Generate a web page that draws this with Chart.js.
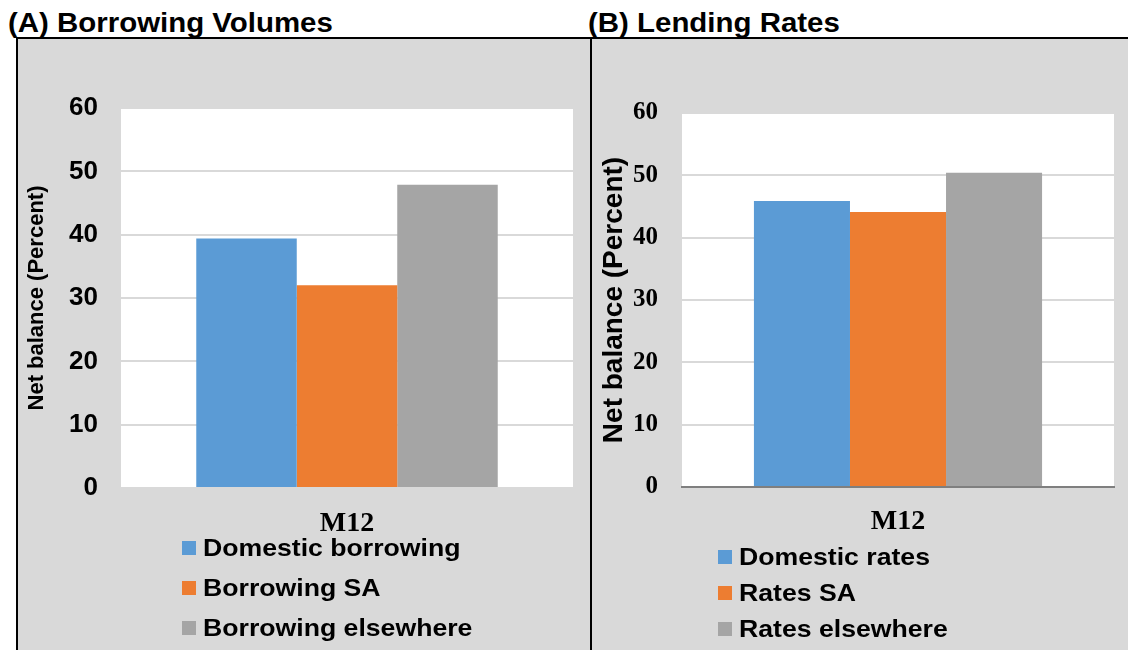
<!DOCTYPE html>
<html>
<head>
<meta charset="utf-8">
<title>Borrowing Volumes and Lending Rates</title>
<script src="https://cdn.jsdelivr.net/npm/chart.js@4.4.1/dist/chart.umd.min.js"></script>
<style>
  html, body { margin: 0; padding: 0; background: #fff; }
  #page { position: relative; width: 1128px; height: 650px; overflow: hidden; background: #fff;
          font-family: "Liberation Sans", Arial, sans-serif; }
  .title { position: absolute; top: 9px; margin: 0; font-size: 27px; line-height: 28px; font-weight: bold;
           color: #000; white-space: nowrap; transform: scaleX(1.09); transform-origin: 0 50%; }
  .panel { position: absolute; top: 37px; height: 613px; background: #d9d9d9; box-sizing: border-box;
           border-top: 2px solid #000; }
  #panelA { left: 16px; width: 576px; border-left: 2px solid #000; border-right: 2px solid #000; }
  #panelB { left: 592px; width: 536px; }
  canvas { position: absolute; display: block; }
  #chartA { left: 18px; top: 39px; }
  #chartB { left: 592px; top: 39px; }
  .legend-item { position: absolute; height: 30px; display: flex; align-items: center; white-space: nowrap;
                 font-size: 24px; line-height: 30px; font-weight: bold; color: #000; }
  .legend-box { width: 14px; height: 14px; margin-right: 7px; flex: none; }
  .legend-text { display: inline-block; transform: scaleX(1.11); transform-origin: 0 50%; }
</style>
</head>
<body>
<div id="page">
  <div class="panel" id="panelA"></div>
  <div class="panel" id="panelB"></div>
  <div class="title" style="left:8px;">(A) Borrowing Volumes</div>
  <div class="title" style="left:588px;">(B) Lending Rates</div>
  <canvas id="chartA" width="572" height="611"></canvas>
  <canvas id="chartB" width="536" height="611"></canvas>
  <div id="legendA"></div>
  <div id="legendB"></div>
</div>
<script>
// Survey period shown on the category axis
const categories = ['M12'];

// Panel A: borrowing volumes, net balance in percent
const borrowingLabels = ['Domestic borrowing', 'Borrowing SA', 'Borrowing elsewhere'];
const borrowingValues = [39.4, 32.0, 47.9];

// Panel B: lending rates, net balance in percent
const ratesLabels = ['Domestic rates', 'Rates SA', 'Rates elsewhere'];
const ratesValues = [45.9, 44.1, 50.4];

// Value axis ticks shared by both panels
const yTicks = [0, 10, 20, 30, 40, 50, 60];

const seriesColors = ['#5b9bd5', '#ed7d31', '#a5a5a5'];

// Fills the plotting area white on top of the grey panel
const plotBackground = {
  id: 'plotBackground',
  beforeDraw(chart, args, opts) {
    const { ctx, chartArea: a } = chart;
    ctx.save();
    ctx.fillStyle = opts.color || '#fff';
    ctx.fillRect(a.left, a.top, a.right - a.left, a.bottom - a.top);
    ctx.restore();
  }
};

function buildChart(canvas, labels, values, cfg) {
  return new Chart(canvas, {
    type: 'bar',
    data: {
      labels: categories,
      datasets: labels.map((label, i) => ({
        label: label,
        data: [values[i]],
        backgroundColor: seriesColors[i],
        borderWidth: 0,
        categoryPercentage: 0.667,
        barPercentage: 1.0
      }))
    },
    options: {
      responsive: false,
      animation: false,
      devicePixelRatio: 1,
      layout: { padding: { left: 0, right: cfg.padRight, top: cfg.padTop, bottom: 0 } },
      plugins: {
        legend: { display: false },
        tooltip: { enabled: false },
        plotBackground: { color: '#ffffff' }
      },
      scales: {
        x: {
          grid: { display: false, drawTicks: false },
          border: { display: cfg.xBorder, color: '#7f7f7f', width: 2 },
          ticks: {
            padding: cfg.xPad,
            color: '#000',
            font: { family: '"Liberation Serif", "Times New Roman", serif', weight: 'bold', size: 28 }
          },
          afterFit(scale) { scale.height = cfg.xHeight; }
        },
        y: {
          min: 0,
          max: 60,
          afterBuildTicks(scale) { scale.ticks = yTicks.map(v => ({ value: v })); },
          grid: { color: '#d9d9d9', lineWidth: 2, drawTicks: false },
          border: { display: false },
          ticks: { padding: cfg.yPad, color: '#000', font: cfg.tickFont },
          title: {
            display: true,
            text: 'Net balance (Percent)',
            color: '#000',
            font: cfg.titleFont,
            padding: { top: cfg.titlePad, bottom: 0 }
          },
          afterFit(scale) { scale.width = cfg.yWidth; }
        }
      }
    },
    plugins: [plotBackground]
  });
}

function buildLegend(container, chart, left, rows) {
  chart.data.datasets.forEach((ds, i) => {
    const item = document.createElement('div');
    item.className = 'legend-item';
    item.style.left = left + 'px';
    item.style.top = (rows[i] - 15) + 'px';
    const box = document.createElement('span');
    box.className = 'legend-box';
    box.style.background = ds.backgroundColor;
    const text = document.createElement('span');
    text.className = 'legend-text';
    text.textContent = ds.label;
    item.appendChild(box);
    item.appendChild(text);
    container.appendChild(item);
  });
}

const chartA = buildChart(document.getElementById('chartA'), borrowingLabels, borrowingValues, {
  padTop: 69, padRight: 17, yWidth: 103, xHeight: 162, yPad: 23, xPad: 19, xBorder: false,
  tickFont: { family: '"Liberation Sans", Arial, sans-serif', weight: 'bold', size: 26 },
  titleFont: { family: '"Liberation Sans", Arial, sans-serif', weight: 'bold', size: 22 },
  titlePad: 6
});

const chartB = buildChart(document.getElementById('chartB'), ratesLabels, ratesValues, {
  padTop: 74, padRight: 14, yWidth: 90, xHeight: 163, yPad: 24, xPad: 18, xBorder: true,
  tickFont: { family: '"Liberation Serif", "Times New Roman", serif', weight: 'bold', size: 25 },
  titleFont: { family: '"Liberation Sans", Arial, sans-serif', weight: 'bold', size: 28 },
  titlePad: 5
});

buildLegend(document.getElementById('legendA'), chartA, 182, [548, 588, 628]);
buildLegend(document.getElementById('legendB'), chartB, 718, [557, 593, 629]);
</script>
</body>
</html>
